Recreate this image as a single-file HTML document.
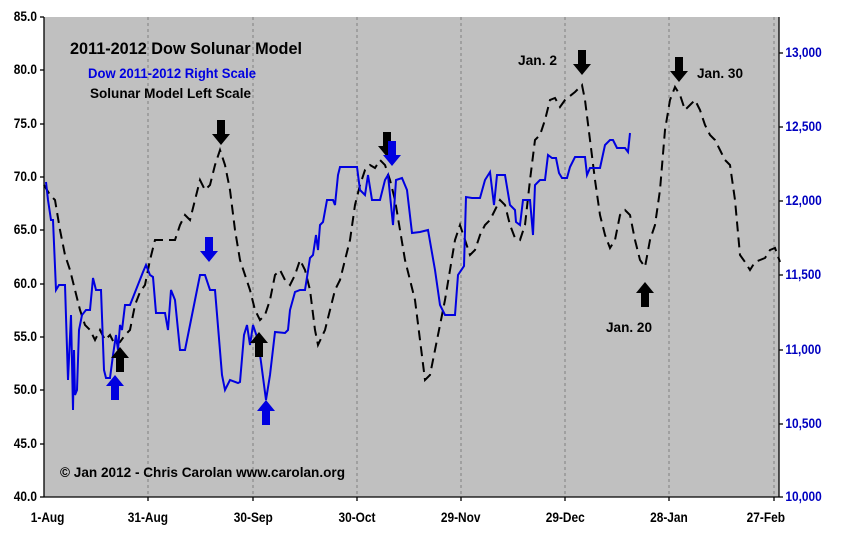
<!DOCTYPE html>
<html><head><style>
body{margin:0;background:#fff;}
svg text{font-family:"Liberation Sans",Arial,sans-serif;}
</style></head><body>
<svg width="849" height="542" xmlns="http://www.w3.org/2000/svg">
<rect x="0" y="0" width="849" height="542" fill="#fff"/>
<rect x="44" y="17" width="735" height="480" fill="#c0c0c0"/>
<g stroke="#808080" stroke-dasharray="3,3" stroke-width="1">
<line x1="148" y1="17" x2="148" y2="497"/><line x1="253" y1="17" x2="253" y2="497"/>
<line x1="357" y1="17" x2="357" y2="497"/><line x1="461" y1="17" x2="461" y2="497"/>
<line x1="565" y1="17" x2="565" y2="497"/><line x1="669" y1="17" x2="669" y2="497"/>
<line x1="774" y1="17" x2="774" y2="497"/>
</g>
<g stroke="#000" stroke-width="1.3">
<line x1="44" y1="17" x2="44" y2="497"/><line x1="44" y1="497" x2="779" y2="497"/>
<line x1="779" y1="17" x2="779" y2="497"/>
<line x1="40" y1="17" x2="44" y2="17"/><line x1="40" y1="70" x2="44" y2="70"/><line x1="40" y1="124" x2="44" y2="124"/><line x1="40" y1="177" x2="44" y2="177"/><line x1="40" y1="230" x2="44" y2="230"/><line x1="40" y1="284" x2="44" y2="284"/><line x1="40" y1="337" x2="44" y2="337"/><line x1="40" y1="390" x2="44" y2="390"/><line x1="40" y1="444" x2="44" y2="444"/><line x1="40" y1="497" x2="44" y2="497"/>
<line x1="779" y1="53" x2="783" y2="53"/><line x1="779" y1="127" x2="783" y2="127"/><line x1="779" y1="201" x2="783" y2="201"/><line x1="779" y1="275" x2="783" y2="275"/><line x1="779" y1="350" x2="783" y2="350"/><line x1="779" y1="424" x2="783" y2="424"/><line x1="779" y1="497" x2="783" y2="497"/>
<line x1="148" y1="497" x2="148" y2="501"/><line x1="253" y1="497" x2="253" y2="501"/><line x1="357" y1="497" x2="357" y2="501"/><line x1="461" y1="497" x2="461" y2="501"/><line x1="565" y1="497" x2="565" y2="501"/><line x1="669" y1="497" x2="669" y2="501"/><line x1="774" y1="497" x2="774" y2="501"/>
</g>
<g font-size="14" font-weight="bold" text-anchor="end" fill="#000" transform="scale(0.85,1)">
<text x="43.5" y="21">85.0</text><text x="43.5" y="74">80.0</text><text x="43.5" y="128">75.0</text><text x="43.5" y="181">70.0</text><text x="43.5" y="234">65.0</text><text x="43.5" y="288">60.0</text><text x="43.5" y="341">55.0</text><text x="43.5" y="394">50.0</text><text x="43.5" y="448">45.0</text><text x="43.5" y="501">40.0</text>
</g>
<g font-size="14" font-weight="bold" fill="#0000c0" transform="scale(0.85,1)">
<text x="924" y="57">13,000</text><text x="924" y="131">12,500</text><text x="924" y="205">12,000</text><text x="924" y="279">11,500</text><text x="924" y="354">11,000</text><text x="924" y="428">10,500</text><text x="924" y="501">10,000</text>
</g>
<g font-size="14" font-weight="bold" text-anchor="middle" fill="#000" transform="scale(0.85,1)">
<text x="56" y="522">1-Aug</text><text x="174" y="522">31-Aug</text><text x="298" y="522">30-Sep</text><text x="420" y="522">30-Oct</text><text x="542" y="522">29-Nov</text><text x="665" y="522">29-Dec</text><text x="787" y="522">28-Jan</text><text x="901" y="522">27-Feb</text>
</g>
<polyline fill="none" stroke="#000" stroke-width="2" stroke-dasharray="10,6" points="44,185 50,195 55,200 60,230 65,255 70,270 75,290 80,310 85,325 90,330 95,340 100,330 105,340 110,335 115,345 120,342 125,335 130,330 135,305 140,292 145,285 150,260 155,240 175,240 180,225 185,215 190,220 195,200 200,180 205,190 210,185 215,165 220,150 225,165 230,190 235,230 240,260 245,275 250,290 255,310 260,320 265,315 270,300 275,275 280,270 285,280 290,285 295,275 300,260 305,270 310,290 315,330 318,345 325,330 330,310 335,290 340,280 345,260 350,240 355,205 360,185 365,170 370,165 375,168 380,160 385,165 390,180 395,200 400,230 405,260 410,280 415,300 420,340 425,380 430,375 435,350 440,325 445,300 450,270 455,240 460,225 465,240 470,255 475,250 480,235 485,225 490,220 495,210 500,200 505,205 510,225 515,238 520,240 525,225 530,180 535,140 540,135 545,120 550,100 555,98 560,107 565,100 575,92 582,85 585,100 590,140 595,180 600,215 605,235 610,248 615,240 620,215 625,210 630,215 635,240 640,260 645,267 650,240 655,225 660,190 665,130 670,100 675,87 680,95 685,110 690,105 695,100 700,110 705,125 710,135 715,140 720,150 725,160 730,165 735,200 740,255 745,262 750,270 755,262 760,260 765,258 770,250 775,248 780,262"/>
<polyline fill="none" stroke="#0000e0" stroke-width="2" points="46,182 48,200 51,220 53,220 56,290 59,285 65,285 68,380 71,315 73,410 74,350 75,395 77,390 79,330 82,315 86,310 90,310 93,278 96,290 101,290 104,370 106,378 110,378 113,355 116,335 118,350 120,325 122,330 125,305 130,305 143,272 146,265 150,275 153,277 156,313 165,313 168,330 171,290 175,300 180,350 185,350 195,300 200,275 205,275 210,290 215,290 222,375 225,390 230,380 238,383 240,382 244,335 247,325 250,345 253,325 258,340 261,362 266,400 270,375 275,332 285,333 288,330 290,310 295,292 300,290 305,290 310,258 313,255 316,235 318,250 320,225 323,222 327,200 333,200 335,205 338,175 340,167 345,167 352,167 357,167 360,190 365,195 368,175 372,200 380,200 385,180 388,175 393,225 396,180 402,178 407,190 412,233 420,232 428,230 435,270 440,305 445,315 455,315 458,275 464,266 466,197 472,198 480,198 485,180 490,172 494,205 497,175 505,175 510,205 515,210 516,222 520,225 523,200 530,200 533,235 535,185 540,180 545,180 548,155 552,158 556,158 559,173 562,178 567,178 570,167 575,157 585,157 587,175 590,168 600,168 605,145 610,140 613,140 617,148 625,148 628,152 630,133"/>
<defs>
<path id="dn" d="M-4,0 h8 v14 h5 l-9,11 l-9,-11 h5 z"/>
<path id="up" d="M-4,25 h8 v-14 h5 l-9,-11 l-9,11 h5 z"/>
</defs>
<use href="#dn" x="221" y="120" fill="#000"/>
<use href="#dn" x="209" y="237" fill="#0000e0"/>
<use href="#up" x="120" y="347" fill="#000"/>
<use href="#up" x="115" y="375" fill="#0000e0"/>
<use href="#up" x="259" y="332" fill="#000"/>
<use href="#up" x="266" y="400" fill="#0000e0"/>
<use href="#dn" x="387" y="132" fill="#000"/>
<use href="#dn" x="392" y="141" fill="#0000e0"/>
<use href="#dn" x="582" y="50" fill="#000"/>
<use href="#up" x="645" y="282" fill="#000"/>
<use href="#dn" x="679" y="57" fill="#000"/>
<text x="70" y="54" font-size="17" font-weight="bold" fill="#000" textLength="232" lengthAdjust="spacingAndGlyphs">2011-2012 Dow Solunar Model</text>
<text x="88" y="78" font-size="14" font-weight="bold" fill="#0000e0" textLength="168" lengthAdjust="spacingAndGlyphs">Dow 2011-2012 Right Scale</text>
<text x="90" y="98" font-size="14" font-weight="bold" fill="#000" textLength="161" lengthAdjust="spacingAndGlyphs">Solunar Model Left Scale</text>
<text x="518" y="65" font-size="14" font-weight="bold" fill="#000" textLength="39" lengthAdjust="spacingAndGlyphs">Jan. 2</text>
<text x="697" y="78" font-size="14" font-weight="bold" fill="#000" textLength="46" lengthAdjust="spacingAndGlyphs">Jan. 30</text>
<text x="606" y="332" font-size="14" font-weight="bold" fill="#000" textLength="46" lengthAdjust="spacingAndGlyphs">Jan. 20</text>
<text x="60" y="477" font-size="14" font-weight="bold" fill="#000" textLength="285" lengthAdjust="spacingAndGlyphs">© Jan 2012 - Chris Carolan  www.carolan.org</text>
</svg>
</body></html>
